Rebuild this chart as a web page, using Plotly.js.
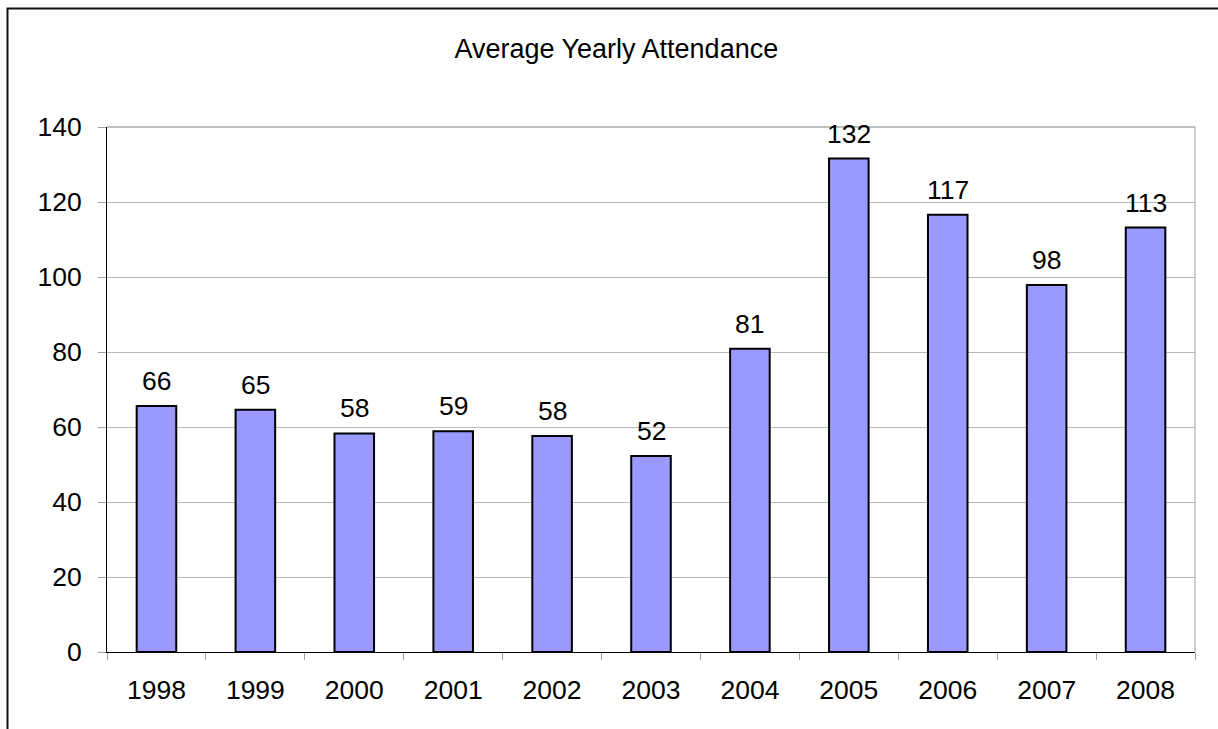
<!DOCTYPE html>
<html>
<head>
<meta charset="utf-8">
<script src="https://cdn.plot.ly/plotly-3.0.1.min.js"></script>
<style>
html,body{margin:0;padding:0;background:#fff;}
#chart{width:1218px;height:729px;}
</style>
</head>
<body>
<div id="chart"></div>
<script>
const years = ['1998','1999','2000','2001','2002','2003','2004','2005','2006','2007','2008'];
const attendance = [65.6, 64.6, 58.3, 58.9, 57.6, 52.3, 80.9, 131.6, 116.6, 97.9, 113.2];
const yTicks = [0, 20, 40, 60, 80, 100, 120, 140];
const chartTitle = 'Average Yearly Attendance';

const FONT = 'Liberation Sans, Arial, sans-serif';
const FS = 26.5;

const trace = {
  type: 'bar',
  x: years,
  y: attendance,
  width: 0.4,
  marker: {color: '#9999FF', line: {color: '#000000', width: 2}},
  hoverinfo: 'x+y'
};

// category axes take annotation positions as category index
const labels = years.map((yr, i) => ({
  x: i, y: attendance[i], xref: 'x', yref: 'y',
  text: String(Math.round(attendance[i])),
  showarrow: false, yanchor: 'bottom', yshift: 8,
  font: {family: FONT, size: FS, color: '#000'}
}));

const layout = {
  width: 1218, height: 729,
  margin: {l: 107, r: 23, t: 127, b: 77, pad: 0},
  paper_bgcolor: '#fff', plot_bgcolor: '#fff',
  showlegend: false,
  font: {family: FONT, size: FS, color: '#000'},
  title: {
    text: chartTitle,
    font: {family: FONT, size: 27, color: '#000'},
    xref: 'container', x: 0.506, xanchor: 'center',
    yref: 'container', y: 1 - 39/729, yanchor: 'top'
  },
  xaxis: {
    type: 'category',
    range: [-0.5, years.length - 0.5],
    tickson: 'boundaries',
    ticks: 'outside', ticklen: 7, tickcolor: '#a0a0a0', tickwidth: 1,
    showline: true, linecolor: '#000', linewidth: 1,
    showgrid: false, zeroline: false,
    tickangle: 0,
    tickfont: {family: FONT, size: FS, color: '#000'},
    ticklabelstandoff: 14
  },
  yaxis: {
    range: [0, 140],
    tickvals: yTicks,
    ticktext: yTicks.map(String),
    ticks: 'outside', ticklen: 8, tickcolor: '#a0a0a0', tickwidth: 1,
    showline: true, linecolor: '#000', linewidth: 1,
    showgrid: true, gridcolor: '#b8b8b8', gridwidth: 1,
    zeroline: false,
    tickfont: {family: FONT, size: FS, color: '#000'},
    ticklabelstandoff: 11
  },
  annotations: labels,
  shapes: [
    {type: 'line', xref: 'paper', yref: 'paper', x0: 0, x1: 1, y0: 1, y1: 1,
     line: {color: '#808080', width: 1}},
    {type: 'line', xref: 'paper', yref: 'paper', x0: 1, x1: 1, y0: 0, y1: 1,
     line: {color: '#a0a0a0', width: 1}},
    {type: 'rect', xref: 'paper', yref: 'paper',
     x0: (7.5 - 107) / 1088, x1: (1240 - 107) / 1088,
     y0: (652 - 760) / 525, y1: (652 - 8.5) / 525,
     line: {color: '#111', width: 2}, fillcolor: 'rgba(0,0,0,0)'}
  ]
};

Plotly.newPlot('chart', [trace], layout, {displayModeBar: false, staticPlot: true});
</script>
</body>
</html>
